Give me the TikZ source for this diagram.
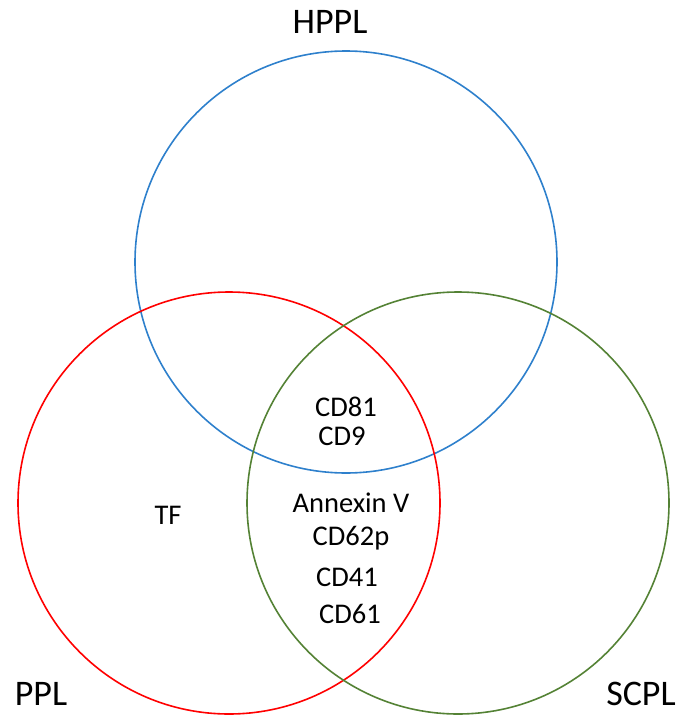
\documentclass[tikz,border=0pt]{standalone}
\usepackage{fontspec}
\setmainfont{Carlito}
\definecolor{hblue}{HTML}{2E80CC}
\definecolor{pred}{HTML}{FF0000}
\definecolor{sgreen}{HTML}{548235}
\begin{document}
\begin{tikzpicture}[x=1pt,y=-1pt,
  ring/.style={draw,line width=1.6pt,circle,minimum size=422pt,inner sep=0pt},
  big/.style={font=\fontsize{36}{40}\selectfont,inner sep=0pt},
  small/.style={font=\fontsize{28.5}{32}\selectfont,inner sep=0pt}]
\useasboundingbox (0,0) rectangle (683,715);
\node[ring,hblue] (hppl) at (346,262) {};
\node[ring,pred] (ppl) at (229,503) {};
\node[ring,sgreen] (scpl) at (458,503) {};
\node[big] (lh) at (330,22) {HPPL};
\node[big] (lp) at (41,694) {PPL};
\node[big] (ls) at (641,694) {SCPL};
\node[small] (tf) at (168,515) {TF};
\node[small] (cd81) at (346,407) {CD81};
\node[small] (cd9) at (342,436) {CD9};
\node[small] (ann) at (351,503) {Annexin V};
\node[small] (cd62) at (351,538) {CD62p};
\node[small] (cd41) at (347,577) {CD41};
\node[small] (cd61) at (350,614) {CD61};
\end{tikzpicture}
\end{document}
